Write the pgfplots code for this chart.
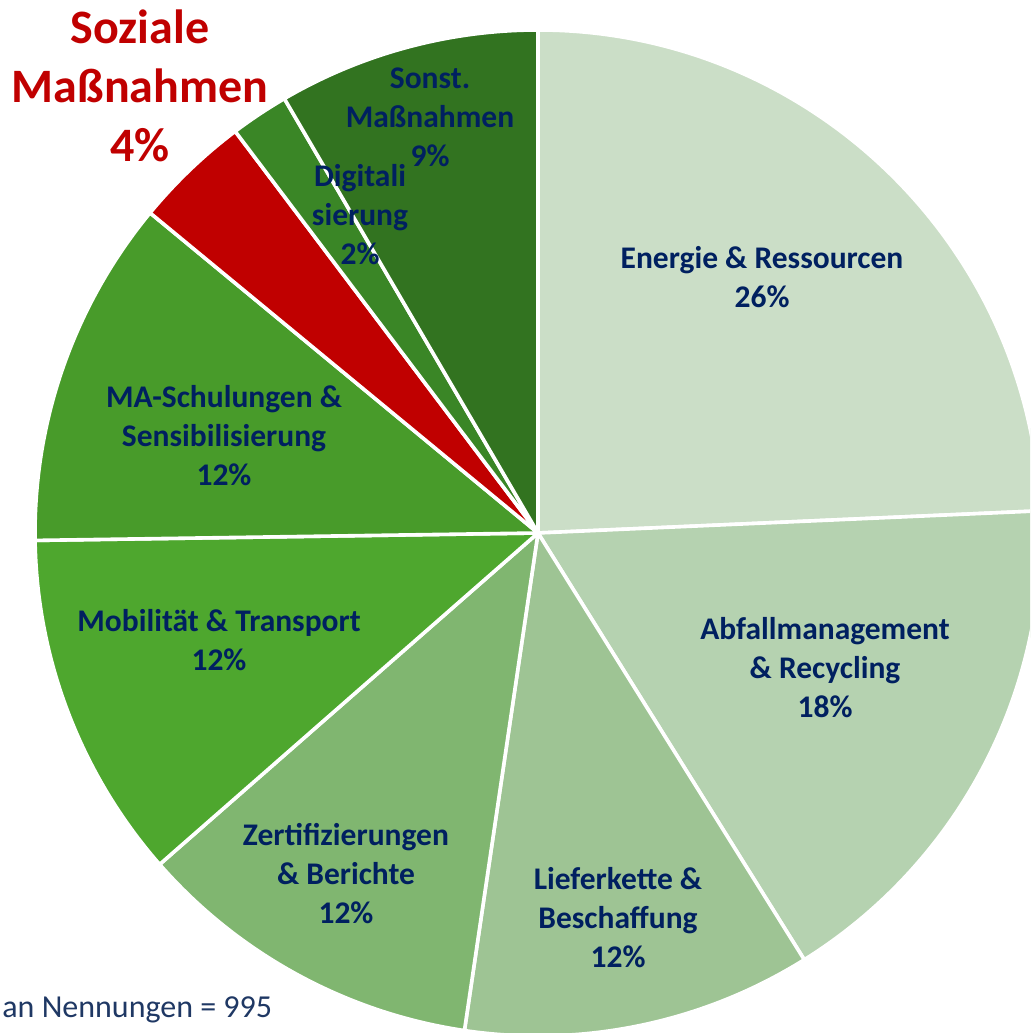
\documentclass[border=0pt]{standalone}
\usepackage{pgfplots}
\pgfplotsset{compat=1.18}
\usepackage{fontspec}
\setmainfont{Carlito}

\definecolor{cEnergie}{RGB}{203,222,199}
\definecolor{cAbfall}{RGB}{181,210,176}
\definecolor{cLiefer}{RGB}{158,196,148}
\definecolor{cZert}{RGB}{128,182,112}
\definecolor{cMob}{RGB}{78,167,46}
\definecolor{cMA}{RGB}{72,155,42}
\definecolor{cSoz}{RGB}{192,0,0}
\definecolor{cDig}{RGB}{58,134,38}
\definecolor{cSonst}{RGB}{50,115,32}
\definecolor{navy}{RGB}{0,32,96}
\definecolor{footblue}{RGB}{31,56,100}

% shares in percent (pie is normalised by their sum, 107)
\def\total{107}

\begin{document}
\begin{tikzpicture}
\begin{axis}[
    x=0.5pt, y=0.5pt,
    xmin=0, xmax=1030,
    ymin=0, ymax=1033,
    hide axis,
    clip=true,
]
\def\cum{0}
\foreach \v/\c in {26/cEnergie, 18/cAbfall, 12/cLiefer, 12/cZert, 12/cMob, 12/cMA, 4/cSoz, 2/cDig, 9/cSonst} {
    \pgfmathsetmacro\s{90-\cum/\total*360}
    \pgfmathsetmacro\e{90-(\cum+\v)/\total*360}
    \pgfmathsetmacro\n{\cum+\v}
    \global\let\cum\n
    \edef\temp{\noexpand\fill[fill=\c, draw=white, line width=1.8pt, line join=round]
        (axis cs:538,500) -- ++(\s:251.5pt) arc[start angle=\s, end angle=\e, radius=251.5pt] -- cycle;}
    \temp
}

\tikzset{lbl/.style={font=\bfseries\fontsize{15.75}{19.5}\selectfont, text=navy, align=center, inner sep=0pt}}
\node[lbl] at (axis cs:762,755.5) {Energie \& Ressourcen\\26\%};
\node[lbl] at (axis cs:825,365) {Abfallmanagement\\\& Recycling\\18\%};
\node[lbl] at (axis cs:618,115) {Lieferkette \&\\Beschaffung\\12\%};
\node[lbl] at (axis cs:346,159) {Zertifizierungen\\\& Berichte\\12\%};
\node[lbl] at (axis cs:219,393) {Mobilität \& Transport\\12\%};
\node[lbl] at (axis cs:224,597) {MA-Schulungen \&\\Sensibilisierung\\12\%};
\node[lbl] at (axis cs:430,916) {Sonst.\\Maßnahmen\\9\%};
\node[lbl] at (axis cs:360,818) {Digitali\\sierung\\2\%};
\node[font=\bfseries\fontsize{24}{29.5}\selectfont, text=cSoz, align=center, inner sep=0pt]
    at (axis cs:140,947) {Soziale\\Maßnahmen\\4\%};
\node[font=\fontsize{16}{19}\selectfont, text=footblue, anchor=base west, inner sep=0pt]
    at (axis cs:2,16) {an Nennungen = 995};
\end{axis}
\pgfresetboundingbox
\path[use as bounding box] (current axis.south west) rectangle (current axis.north east);
\end{tikzpicture}
\end{document}
